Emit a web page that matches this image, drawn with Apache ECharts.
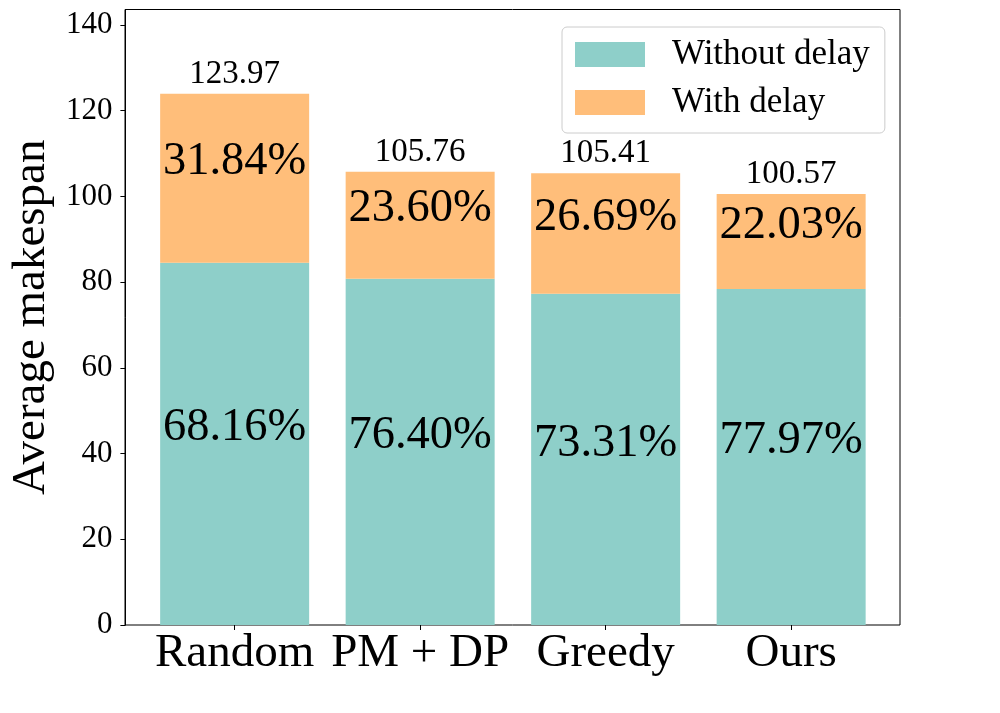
<!DOCTYPE html>
<html>
<head>
<meta charset="utf-8">
<script src="https://cdn.jsdelivr.net/npm/echarts@6/dist/echarts.min.js"></script>
<style>
  html, body { margin: 0; padding: 0; background: #fff; }
  #chart { width: 1000px; height: 713px; }
</style>
</head>
<body>
<div id="chart"></div>
<script>
// categories and values
const methods = ['Random', 'PM + DP', 'Greedy', 'Ours'];
const totals = [123.97, 105.76, 105.41, 100.57];
const withoutPct = [68.16, 76.40, 73.31, 77.97];
const withPct = [31.84, 23.60, 26.69, 22.03];
const yTicks = [0, 20, 40, 60, 80, 100, 120, 140];

const FONT = '"Liberation Serif", "Times New Roman", serif';

// segment heights from the total and the share of each part
const withoutVals = totals.map((t, i) => t * withoutPct[i] / 100);
const withVals = totals.map((t, i) => t * withPct[i] / 100);

const chart = echarts.init(document.getElementById('chart'));

const option = {
    animation: false,
    textStyle: { fontFamily: FONT, color: '#000' },
    grid: [
        // outer frame (the full axes box)
        { left: 125, right: 100, top: 9.5, bottom: 88, show: true, borderColor: '#000', borderWidth: 1 },
        // bar area, one band per method
        { left: 141.5, right: 116.1, top: 9.5, bottom: 88 }
    ],
    legend: {
        data: ['Without delay', 'With delay'],
        orient: 'vertical',
        left: 562, top: 27,
        itemWidth: 70, itemHeight: 25, itemGap: 13,
        icon: 'rect',
        padding: [10, 15, 13, 13],
        backgroundColor: 'rgba(255,255,255,0.8)',
        borderColor: '#cccccc', borderWidth: 1, borderRadius: 5,
        textStyle: {
            fontFamily: FONT, fontSize: 35, color: '#000',
            lineHeight: 35, padding: [0, 0, 0, 22]
        }
    },
    xAxis: [
        { gridIndex: 0, type: 'value', show: false, min: 0, max: 1 },
        {
            gridIndex: 1,
            type: 'category',
            data: methods,
            axisLine: { show: false },
            axisTick: { show: true, alignWithLabel: true, length: 5, lineStyle: { color: '#000' } },
            axisLabel: { fontFamily: FONT, fontSize: 47, color: '#000', margin: 5, interval: 0 }
        }
    ],
    yAxis: [
        { gridIndex: 0, type: 'value', show: false, min: 0, max: 1 },
        {
            gridIndex: 1,
            type: 'value',
            min: 0, max: 143.6,
            offset: 16.5,
            name: 'Average makespan',
            nameLocation: 'middle',
            nameGap: 62,
            nameTextStyle: { fontFamily: FONT, fontSize: 47, color: '#000' },
            splitLine: { show: false },
            axisLine: { show: true, lineStyle: { color: '#000', width: 1 } },
            axisTick: { show: true, customValues: yTicks, length: 5, lineStyle: { color: '#000' } },
            axisLabel: { customValues: yTicks, fontFamily: FONT, fontSize: 31, color: '#000', margin: 13 }
        }
    ],
    series: [
        {
            name: 'Without delay',
            type: 'bar',
            xAxisIndex: 1, yAxisIndex: 1,
            stack: 'total',
            barWidth: 149,
            itemStyle: { color: '#8ECFC9' },
            label: {
                show: true, position: 'inside', offset: [0, -16],
                fontFamily: FONT, fontSize: 46.5, color: '#000',
                formatter: p => withoutPct[p.dataIndex].toFixed(2) + '%'
            },
            data: withoutVals
        },
        {
            name: 'With delay',
            type: 'bar',
            xAxisIndex: 1, yAxisIndex: 1,
            stack: 'total',
            barWidth: 149,
            itemStyle: { color: '#FFBE7A' },
            label: {
                show: true, position: 'inside', offset: [0, -16],
                fontFamily: FONT, fontSize: 46.5, color: '#000',
                formatter: p => withPct[p.dataIndex].toFixed(2) + '%'
            },
            data: withVals
        },
        {
            // zero-height cap that carries the total above each bar
            name: 'total',
            type: 'bar',
            xAxisIndex: 1, yAxisIndex: 1,
            stack: 'total',
            barWidth: 149,
            silent: true,
            itemStyle: { color: 'rgba(0,0,0,0)' },
            label: {
                show: true, position: 'top', distance: 3,
                fontFamily: FONT, fontSize: 33, color: '#000',
                formatter: p => totals[p.dataIndex].toFixed(2)
            },
            data: totals.map(() => 0)
        }
    ]
};

chart.setOption(option);
</script>
</body>
</html>
